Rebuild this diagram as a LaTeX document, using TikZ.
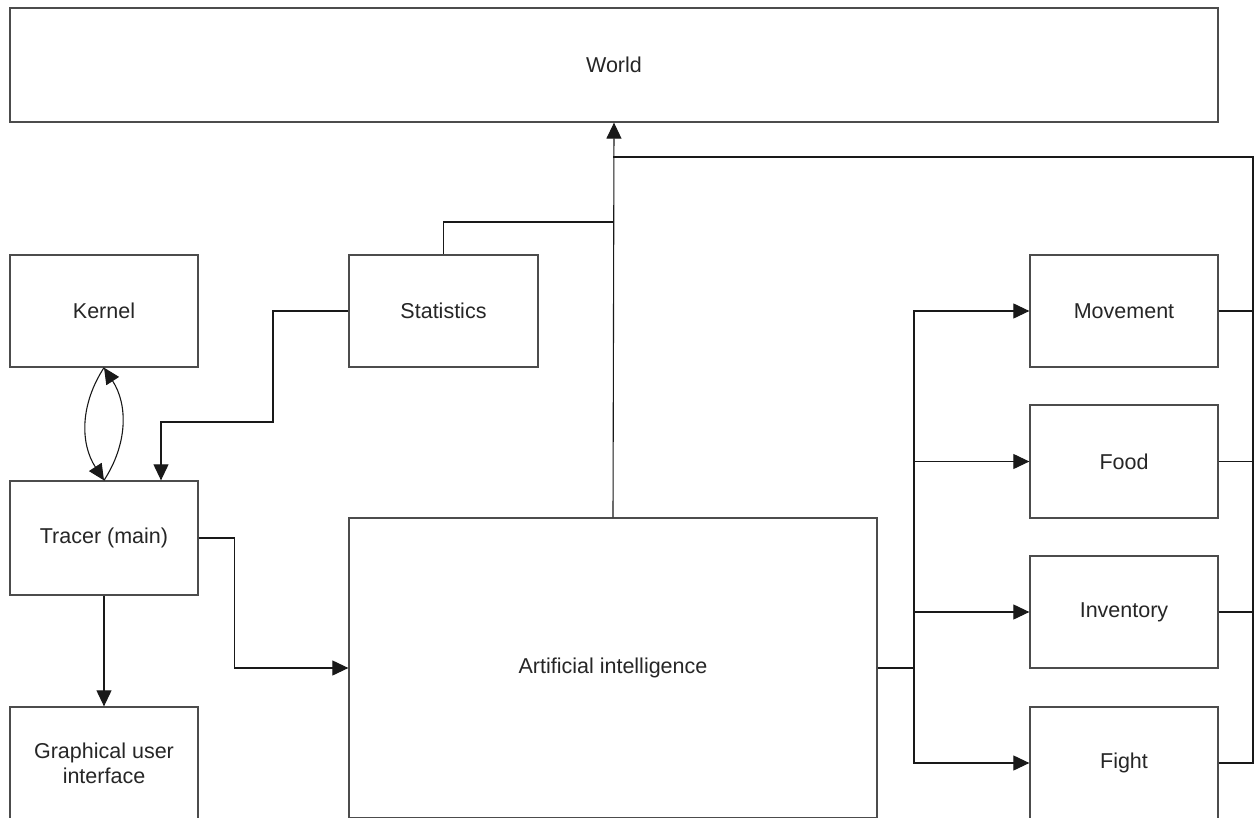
\documentclass[tikz,border=0pt]{standalone}
\usepackage{fontspec}
\setmainfont{Liberation Sans}
\usetikzlibrary{arrows.meta}
\tikzset{
  block/.style={draw=black!70, line width=1.3pt, fill=white, text=black!85, align=center,
    inner sep=0pt, minimum width=188pt, minimum height=112pt, font=\fontsize{21.5}{25}\selectfont},
  wire/.style={draw=black!90, line width=1.1pt},
  link/.style={wire, -{Triangle[length=16pt,width=15pt]}},
  bus/.style={wire, line width=2pt}
}
\begin{document}
\begin{tikzpicture}[x=1pt, y=-1pt]
        \useasboundingbox (0,0) rectangle (1255,818);
        \clip (0,0) rectangle (1255,818);
        % top
        \node[block, minimum width=1208pt, minimum height=114pt] (world) at (614,65) {World};
        % left column
        \node[block] (kernel) at (104,311) {Kernel};
        \node[block, minimum height=114pt] (tracer) at (104,538) {Tracer (main)};
        \node[block] (gui) at (104,763) {Graphical user\\interface};
        % middle
        \node[block, minimum width=189pt] (stats) at (443.5,311) {Statistics};
        \node[block, minimum width=528pt, minimum height=300pt] (ai) at (613,668) {Artificial intelligence};
        % right column
        \node[block] (move) at (1124,311) {Movement};
        \node[block, minimum height=113pt] (food) at (1124,461.5) {Food};
        \node[block] (inv) at (1124,612) {Inventory};
        \node[block] (fight) at (1124,763) {Fight};
        % junctions
        \coordinate (wj) at (613,157);
        \coordinate (sj) at (613,222);
        \coordinate (tj) at (914,668);
        \coordinate (rm) at (1253,311);
        \coordinate (rf) at (1253,461.5);
        \coordinate (ri) at (1253,612);
        \coordinate (rg) at (1253,763);
        % kernel and tracer
        \draw[link] (kernel.south) to[bend right=33] (tracer.north);
        \draw[link] (tracer.north) to[bend right=33] (kernel.south);
        \draw[link] (stats.west) -| (273,422) -| ([xshift=57pt]tracer.north);
        \draw[link] (tracer.east) -- ++(36,0) |- (ai.west);
        \draw[link] (tracer.south) -- (gui.north);
        % to the world
        \draw[link] (ai.north) -- (world.south);
        \draw[wire] (stats.north) |- (sj);
        % ai to its parts
        \draw[wire, line width=1.7pt] (ai.east) -- (tj);
        \draw[link] (tj) |- (move.west);
        \draw[link] (tj) |- (food.west);
        \draw[link] (tj) |- (inv.west);
        \draw[link] (tj) |- (fight.west);
        % parts back to the world
        \draw[wire] (move.east) -- (rm);
        \draw[wire] (food.east) -- (rf);
        \draw[wire] (inv.east) -- (ri);
        \draw[wire] (fight.east) -- (rg) -- (ri);
        \draw[bus] (ri) |- (wj);
    \end{tikzpicture}
\end{document}
